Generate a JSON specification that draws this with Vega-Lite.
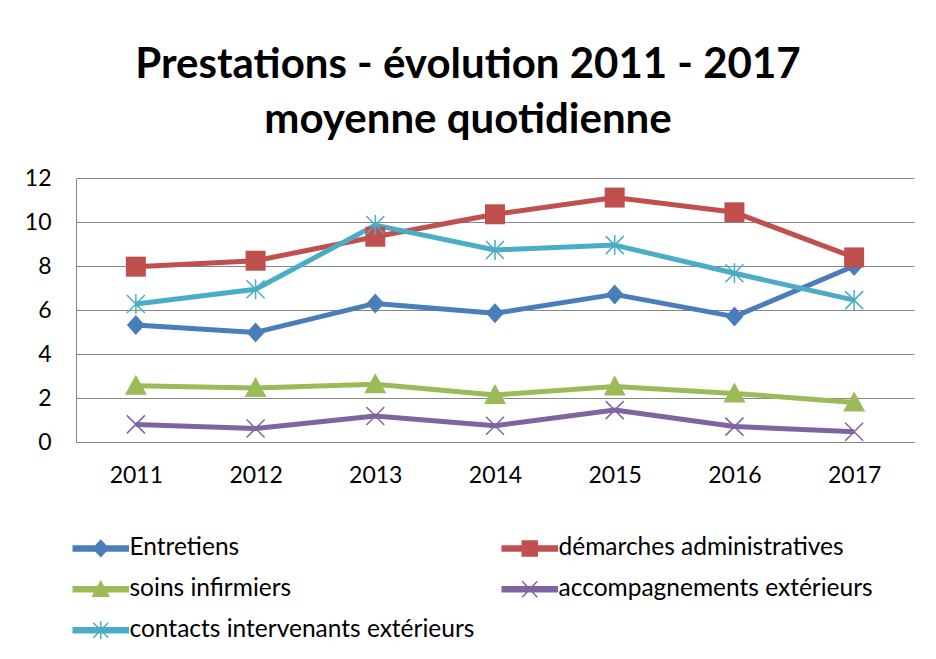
{
  "$schema": "https://vega.github.io/schema/vega-lite/v6.json",
  "width": 838,
  "height": 264,
  "autosize": {"type": "none"},
  "padding": {"left": 76, "top": 178, "right": 22, "bottom": 217},
  "background": "white",
  "title": {
    "text": ["Prestations - évolution 2011 - 2017", "moyenne quotidienne"],
    "font": "Lato",
    "fontSize": 42,
    "fontWeight": "bold",
    "color": "black",
    "lineHeight": 55,
    "anchor": "middle",
    "frame": "group",
    "baseline": "bottom",
    "dx": -27,
    "dy": 53,
    "offset": 36
  },
  "config": {
    "font": "Lato",
    "view": {"stroke": null},
    "axis": {
      "labelFont": "Lato",
      "labelFontSize": 23,
      "labelColor": "black",
      "ticks": false,
      "domainColor": "#868686",
      "gridColor": "#868686",
      "gridWidth": 1,
      "domainWidth": 1,
      "title": null
    }
  },
  "data": {
    "values": [
      {"year": "2011", "series": "Entretiens", "value": 5.32},
      {"year": "2012", "series": "Entretiens", "value": 4.98},
      {"year": "2013", "series": "Entretiens", "value": 6.30},
      {"year": "2014", "series": "Entretiens", "value": 5.85},
      {"year": "2015", "series": "Entretiens", "value": 6.71},
      {"year": "2016", "series": "Entretiens", "value": 5.70},
      {"year": "2017", "series": "Entretiens", "value": 8.00},
      {"year": "2011", "series": "démarches administratives", "value": 7.97},
      {"year": "2012", "series": "démarches administratives", "value": 8.24},
      {"year": "2013", "series": "démarches administratives", "value": 9.33},
      {"year": "2014", "series": "démarches administratives", "value": 10.35},
      {"year": "2015", "series": "démarches administratives", "value": 11.11},
      {"year": "2016", "series": "démarches administratives", "value": 10.44},
      {"year": "2017", "series": "démarches administratives", "value": 8.39},
      {"year": "2011", "series": "soins infirmiers", "value": 2.56},
      {"year": "2012", "series": "soins infirmiers", "value": 2.45},
      {"year": "2013", "series": "soins infirmiers", "value": 2.62},
      {"year": "2014", "series": "soins infirmiers", "value": 2.14},
      {"year": "2015", "series": "soins infirmiers", "value": 2.52},
      {"year": "2016", "series": "soins infirmiers", "value": 2.21},
      {"year": "2017", "series": "soins infirmiers", "value": 1.80},
      {"year": "2011", "series": "accompagnements extérieurs", "value": 0.80},
      {"year": "2012", "series": "accompagnements extérieurs", "value": 0.61},
      {"year": "2013", "series": "accompagnements extérieurs", "value": 1.18},
      {"year": "2014", "series": "accompagnements extérieurs", "value": 0.74},
      {"year": "2015", "series": "accompagnements extérieurs", "value": 1.45},
      {"year": "2016", "series": "accompagnements extérieurs", "value": 0.70},
      {"year": "2017", "series": "accompagnements extérieurs", "value": 0.47},
      {"year": "2011", "series": "contacts intervenants extérieurs", "value": 6.27},
      {"year": "2012", "series": "contacts intervenants extérieurs", "value": 6.94},
      {"year": "2013", "series": "contacts intervenants extérieurs", "value": 9.86},
      {"year": "2014", "series": "contacts intervenants extérieurs", "value": 8.73},
      {"year": "2015", "series": "contacts intervenants extérieurs", "value": 8.95},
      {"year": "2016", "series": "contacts intervenants extérieurs", "value": 7.67},
      {"year": "2017", "series": "contacts intervenants extérieurs", "value": 6.45}
    ]
  },
  "encoding": {
    "x": {
      "field": "year",
      "type": "ordinal",
      "scale": {"type": "point", "padding": 0.5},
      "axis": {"labelAngle": 0, "labelPadding": 22, "grid": false}
    },
    "y": {
      "field": "value",
      "type": "quantitative",
      "scale": {"domain": [0, 12], "nice": false},
      "axis": {"values": [0, 2, 4, 6, 8, 10, 12], "grid": true, "labelPadding": 25}
    }
  },
  "layer": [
    {
      "mark": {"type": "line", "strokeWidth": 5, "strokeJoin": "round"},
      "encoding": {
        "color": {
          "field": "series",
          "type": "nominal",
          "scale": {
            "domain": ["Entretiens", "démarches administratives", "soins infirmiers", "accompagnements extérieurs", "contacts intervenants extérieurs"],
            "range": ["#4A7EBB", "#C0504D", "#9BBB59", "#8064A2", "#4BACC6"]
          },
          "legend": {
            "orient": "none",
            "direction": "horizontal",
            "legendX": -15,
            "legendY": 358,
            "title": null,
            "columns": 2,
            "columnPadding": 15,
            "rowPadding": 16,
            "padding": 0,
            "symbolSize": 4,
            "labelOffset": 44,
            "labelFont": "Lato",
            "labelFontSize": 24.5,
            "labelColor": "black",
            "labelLimit": 500,
            "encode": {
              "symbols": {
                "update": {
                  "shape": {"signal": "datum.value === 'Entretiens' ? 'M0,-2.5H55V2.5H0Z M27.5,-8L35,0L27.5,8L20,0Z' : datum.value === 'démarches administratives' ? 'M0,-2.5H55V2.5H0Z M20,-7.5H35V7.5H20Z' : datum.value === 'soins infirmiers' ? 'M0,-2.5H55V2.5H0Z M27.5,-8L35.5,7L19.5,7Z' : datum.value === 'accompagnements extérieurs' ? 'M0,-2.5H55V2.5H0Z M20,-8L35,8 M35,-8L20,8' : 'M0,-2.5H55V2.5H0Z M20,-7.5L35,7.5 M35,-7.5L20,7.5 M27.5,-9V9'"},
                  "fill": {"scale": "color", "field": "value"},
                  "stroke": {"scale": "color", "field": "value"},
                  "strokeWidth": {"value": 1.5},
                  "size": {"value": 4},
                  "opacity": {"value": 1},
                  "fillOpacity": {"value": 1}
                }
              }
            }
          }
        }
      }
    },
    {
      "transform": [{"filter": "datum.series === 'Entretiens'"}],
      "mark": {"type": "point", "filled": true, "opacity": 1, "size": 4, "color": "#4A7EBB", "shape": "M0,-10L9,0L0,10L-9,0Z"}
    },
    {
      "transform": [{"filter": "datum.series === 'démarches administratives'"}],
      "mark": {"type": "point", "filled": true, "opacity": 1, "size": 4, "color": "#C0504D", "shape": "M-10,-10H10V10H-10Z"}
    },
    {
      "transform": [{"filter": "datum.series === 'soins infirmiers'"}],
      "mark": {"type": "point", "filled": true, "opacity": 1, "size": 4, "color": "#9BBB59", "shape": "M0,-11L11,9H-11Z"}
    },
    {
      "transform": [{"filter": "datum.series === 'accompagnements extérieurs'"}],
      "mark": {"type": "point", "filled": false, "opacity": 1, "size": 4, "strokeWidth": 1.5, "color": "#8064A2", "shape": "M-9,-9L9,9M9,-9L-9,9"}
    },
    {
      "transform": [{"filter": "datum.series === 'contacts intervenants extérieurs'"}],
      "mark": {"type": "point", "filled": false, "opacity": 1, "size": 4, "strokeWidth": 1.5, "color": "#4BACC6", "shape": "M-9,-9L9,9M9,-9L-9,9M0,-10V10"}
    }
  ]
}
